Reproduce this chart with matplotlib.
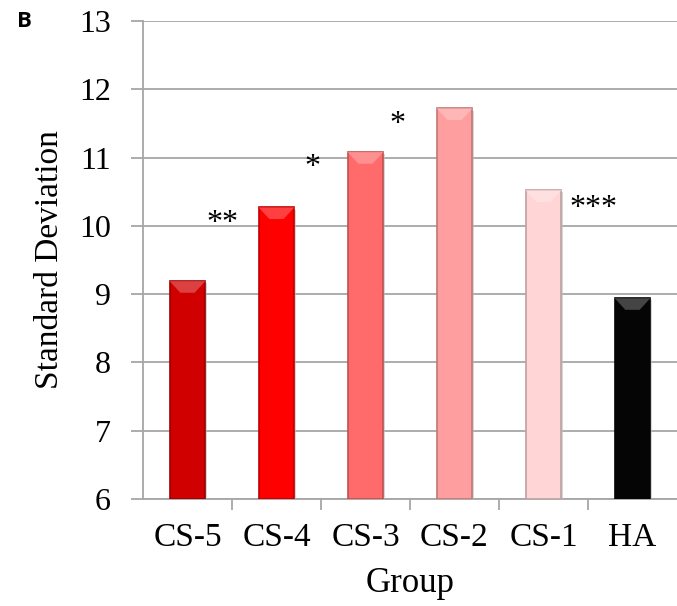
import numpy as np
import matplotlib
matplotlib.use('Agg')
import matplotlib.pyplot as plt
import matplotlib.patheffects as pe
from matplotlib.colors import to_rgb

groups = ['CS-5', 'CS-4', 'CS-3', 'CS-2', 'CS-1', 'HA']
std_dev = [9.19, 10.27, 11.08, 11.72, 10.52, 8.94]
bar_colors = ['#D00000', '#FF0000', '#FF6B6B', '#FF9E9E', '#FFD5D5', '#050505']

# significance marks: (x position in category units, y value, text)
sig_x = [0.39, 1.40, 2.36, 4.56]
sig_y = [10.03, 10.86, 11.48, 10.25]
sig_text = ['**', '*', '*', '***']

serif = ['Liberation Serif', 'DejaVu Serif']
grid_gray = '#A6A6A6'

fig = plt.figure(figsize=(6.77, 6.06), dpi=100)
ax = fig.add_axes([0.2112, 0.1766, 0.7888, 0.7887])

x = np.arange(len(groups))
bars = ax.bar(x, [v - 6 for v in std_dev], bottom=6, width=0.4,
              color=bar_colors, zorder=3)


def shade(c, f):
    r, g, b = to_rgb(c)
    return (r * f, g * f, b * f)


def tint(c, f):
    r, g, b = to_rgb(c)
    return (r + (1 - r) * f, g + (1 - g) * f, b + (1 - b) * f)


for b, c in zip(bars, bar_colors):
    b.set_edgecolor(shade(c, 0.75))
    b.set_linewidth(1.2)
    b.set_path_effects([pe.SimplePatchShadow(offset=(1.5, -1.5), shadow_rgbFace='#bbbbbb', alpha=0.6),
                        pe.Normal()])
    # bevelled top cap
    x0, w = b.get_x(), b.get_width()
    top = b.get_y() + b.get_height()
    d = 0.17
    ax.fill([x0, x0 + w, x0 + w - w * 0.3, x0 + w * 0.3],
            [top, top, top - d, top - d],
            color=tint(c, 0.25), zorder=4, lw=0)

for sx, sy, st in zip(sig_x, sig_y, sig_text):
    ax.text(sx, sy, st, ha='center', va='center', fontsize=23,
            family=serif, zorder=5)

ax.set_xlim(-0.5, len(groups) - 0.5)
ax.set_ylim(6, 13)
ax.set_yticks(range(6, 14))
ax.yaxis.grid(True, color=grid_gray, linewidth=1.3, zorder=0)
ax.set_axisbelow(True)

ax.set_xticks(x)
ax.set_xticklabels(groups)
ax.set_xticks(np.arange(0.5, len(groups) - 0.5), minor=True)
ax.tick_params(axis='x', which='major', length=0, pad=17)
ax.tick_params(axis='x', which='minor', length=8, width=1.3, color=grid_gray)
ax.tick_params(axis='y', length=9, width=1.3, color=grid_gray, pad=14)

for lab in ax.get_xticklabels():
    lab.set_family(serif)
    lab.set_fontsize(24)
for lab in ax.get_yticklabels():
    lab.set_family(serif)
    lab.set_fontsize(23)

for side in ['top', 'right']:
    ax.spines[side].set_visible(False)
for side in ['left', 'bottom']:
    ax.spines[side].set_color(grid_gray)
    ax.spines[side].set_linewidth(1.3)

ax.set_ylabel('Standard Deviation', family=serif, fontsize=24, labelpad=10)
ax.set_xlabel('Group', family=serif, fontsize=25, labelpad=10)

fig.text(0.025, 0.965, 'B', family=['Open Sans', 'DejaVu Sans'], fontweight='bold',
         fontsize=16, va='center')

fig.savefig('out.png', dpi=100)
